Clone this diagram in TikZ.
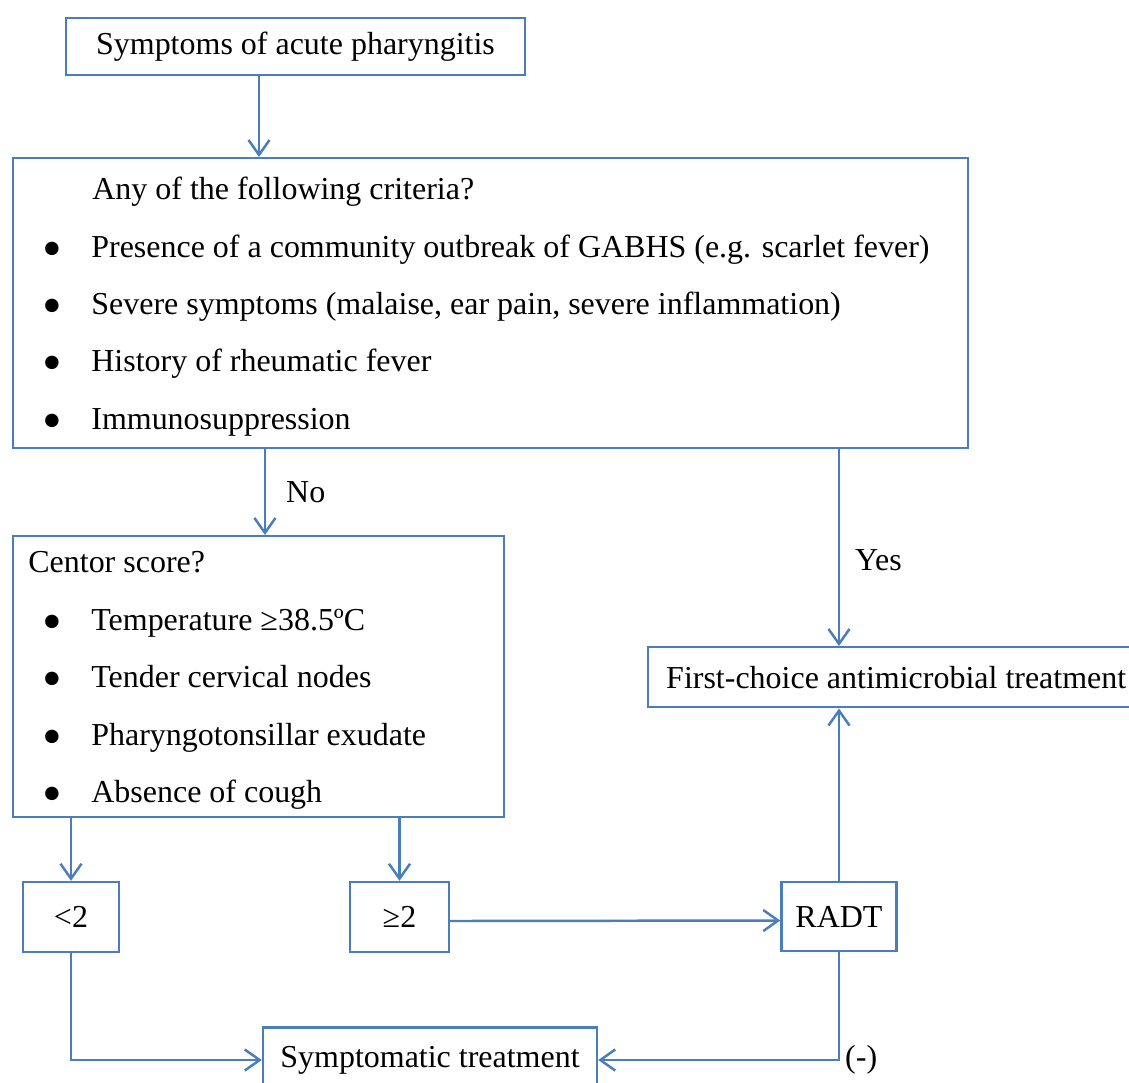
\documentclass[tikz,border=0pt]{standalone}
\usepackage{fontspec}
\setmainfont{Liberation Serif}
\usepackage{tikz}
\usetikzlibrary{arrows.meta, positioning}
\definecolor{flowblue}{RGB}{74,126,187}

\begin{document}
\begin{tikzpicture}[x=0.02cm, y=-0.02cm,
  every node/.style={font=\fontsize{18.2}{22}\selectfont, inner sep=0pt},
  box/.style={draw=flowblue, line width=1.4pt, rectangle},
  arr/.style={draw=flowblue, line width=1.4pt, -{Straight Barb[length=8.5pt,width=12pt]}},
  item/.style={anchor=base west},
  dot/.style={anchor=center, yshift=-0.12cm, font=\fontsize{32}{34}\selectfont}]
\useasboundingbox (0,0) rectangle (1129,1082);
\clip (0,0) rectangle (1129,1082);
%
\node[box, minimum width=9.18cm, minimum height=1.14cm] (symp) at (295.5,46.5) {Symptoms of acute pharyngitis};
%
\node[box, anchor=north west, minimum width=19.1cm, minimum height=5.8cm] (crit) at (12,157) {};
\node[item] (crithead) at (92,199) {Any of the following criteria?};
\node[dot] (d1) at (52,249) {•};
\node[item] (c1) at (91,257) {Presence of a community outbreak of GABHS (e.g. scarlet fever)};
\node[dot] (d2) at (52,306) {•};
\node[item] (c2) at (91,314) {Severe symptoms (malaise, ear pain, severe inflammation)};
\node[dot] (d3) at (52,363) {•};
\node[item] (c3) at (91,371) {History of rheumatic fever};
\node[dot] (d4) at (52,421) {•};
\node[item] (c4) at (91,429) {Immunosuppression};
%
\node[box, anchor=north west, minimum width=9.82cm, minimum height=5.62cm] (centor) at (12,535) {};
\node[item] (centorhead) at (28,572) {Centor score?};
\node[dot] (e1) at (52,622) {•};
\node[item] (s1) at (91,630) {Temperature ≥38.5ºC};
\node[dot] (e2) at (52,679) {•};
\node[item] (s2) at (91,687) {Tender cervical nodes};
\node[dot] (e3) at (52,737) {•};
\node[item] (s3) at (91,745) {Pharyngotonsillar exudate};
\node[dot] (e4) at (52,794) {•};
\node[item] (s4) at (91,802) {Absence of cough};
%
\node[box, anchor=north west, inner xsep=0.36cm, minimum height=1.2cm] (first) at (647,646) {First-choice antimicrobial treatment};
\node[box, minimum width=1.92cm, minimum height=1.4cm] (lt2) at (71,917) {<2};
\node[box, minimum width=1.98cm, minimum height=1.4cm] (ge2) at (399.5,917) {≥2};
\node[box, minimum width=2.3cm, minimum height=1.38cm] (radt) at (839,916.5) {RADT};
\node[box, minimum width=6.68cm, minimum height=1.3cm] (symtr) at (430,1060) {Symptomatic treatment};
%
\draw[arr] ([xshift=-0.73cm]symp.south) -- ([xshift=-0.73cm]symp.south |- crit.north);
\draw[arr] ([xshift=5.06cm]crit.south west) -- ([xshift=5.06cm]crit.south west |- centor.north)
  node[midway, right, xshift=0.4cm] {No};
\draw[arr] (crit.south -| radt.north) -- (first.north -| radt.north)
  node[pos=0.565, right, xshift=0.3cm] {Yes};
\draw[arr] (centor.south -| lt2.north) -- (lt2.north);
\draw[arr] (centor.south -| ge2.north) -- (ge2.north);
\draw[arr] ([yshift=-0.08cm]ge2.east) -- ([yshift=-0.08cm]radt.west);
\draw[arr] (radt.north) -- (radt.north |- first.south);
\draw[arr] (lt2.south) |- (symtr.west);
\draw[arr] (radt.south) |- (symtr.east) node[pos=0.5, right, xshift=0.1cm] {(-)};
%
\end{tikzpicture}
\end{document}
